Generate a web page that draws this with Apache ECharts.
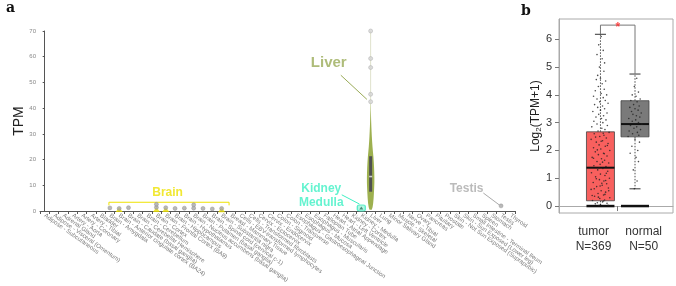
<!DOCTYPE html>
<html>
<head>
<meta charset="utf-8">
<script src="https://cdn.jsdelivr.net/npm/echarts@6.0.0/dist/echarts.min.js"></script>
<style>
  html, body { margin: 0; padding: 0; background: #fff; }
  #chart { width: 676px; height: 286px; }
</style>
</head>
<body>
<div id="chart"></div>
<script>
// ---- panel a: GTEx tissues (TPM) ----
const tissues = [
  'Adipose - Subcutaneous', 'Adipose - Visceral (Omentum)', 'Adrenal Gland', 'Artery - Aorta',
  'Artery - Coronary', 'Artery - Tibial', 'Bladder', 'Brain - Amygdala',
  'Brain - Anterior cingulate cortex (BA24)', 'Brain - Caudate (basal ganglia)',
  'Brain - Cerebellar Hemisphere', 'Brain - Cerebellum', 'Brain - Cortex',
  'Brain - Frontal Cortex (BA9)', 'Brain - Hippocampus', 'Brain - Hypothalamus',
  'Brain - Nucleus accumbens (basal ganglia)', 'Brain - Putamen (basal ganglia)',
  'Brain - Spinal cord (cervical c-1)', 'Brain - Substantia nigra', 'Breast - Mammary Tissue',
  'Cells - EBV-transformed lymphocytes', 'Cells - Transformed fibroblasts', 'Cervix - Ectocervix',
  'Cervix - Endocervix', 'Colon - Sigmoid', 'Colon - Transverse',
  'Esophagus - Gastroesophageal Junction', 'Esophagus - Mucosa', 'Esophagus - Muscularis',
  'Fallopian Tube', 'Heart - Atrial Appendage', 'Heart - Left Ventricle', 'Kidney - Cortex',
  'Kidney - Medulla', 'Liver', 'Lung', 'Minor Salivary Gland', 'Muscle - Skeletal',
  'Nerve - Tibial', 'Ovary', 'Pancreas', 'Pituitary', 'Prostate',
  'Skin - Not Sun Exposed (Suprapubic)', 'Skin - Sun Exposed (Lower leg)',
  'Small Intestine - Terminal Ileum', 'Spleen', 'Stomach', 'Testis', 'Thyroid'
];
const tpmMax = 70;

// liver violin: [TPM, relative density]
const liverDensity = [
  [0.5, 0.3], [1.5, 0.52], [3, 0.68], [5, 0.8], [7, 0.88], [9, 0.95], [11, 1], [13, 1],
  [15, 0.97], [17, 0.92], [19, 0.85], [21, 0.75], [23, 0.62], [25, 0.5], [27, 0.4],
  [29, 0.32], [31, 0.25], [33, 0.19], [35, 0.14], [37, 0.1], [39, 0.07], [41, 0.05], [43, 0.03]
];
const liverBox = [7.5, 13.4, 21.3];   // q1, median, q3
const liverTop = 70;
const liverOutliers = [70, 59.3, 55.8, 45.4, 42.5];

// small marks near 0 TPM: [tissue index, TPM]
const greyDots = [
  [7, 1.2], [8, 1.0], [9, 1.3], [12, 1.4], [12, 2.6], [13, 1.3], [14, 1.0], [15, 1.1],
  [16, 1.1], [16, 2.4], [17, 1.0], [18, 0.8], [19, 1.0], [49, 2.0]
];
const yellowMarks = [[8, 0.6], [12, 0.6], [13, 0.6], [19, 0.5]];
const tealMarks = [[34, 1.2]];

// ---- panel b: boxplot log2(TPM+1) ----
const groups = ['tumor', 'normal'];
const groupN = [369, 50];
const groupPos = [1.2, 2.2];
const tumorStats = [0, 0.19, 1.38, 2.67, 6.18];   // min, q1, median, q3, max
const normalStats = [0.62, 2.49, 2.95, 3.79, 4.75];
const tumorPoints = [
  [0.02, 6.1], [-0.05, 5.8], [0.08, 5.6], [-0.1, 5.45], [0.05, 5.3], [0.12, 5.15], [-0.03, 5.0],
  [0.1, 4.85], [-0.08, 4.7], [0.0, 4.6], [0.15, 4.5], [-0.12, 4.55], [0.05, 4.4], [-0.06, 4.3],
  [0.11, 4.2], [-0.15, 4.15], [0.02, 4.05], [0.18, 4.0], [-0.2, 3.95], [0.08, 3.9], [-0.1, 3.85],
  [0.14, 3.8], [-0.02, 3.75], [0.22, 3.7], [-0.17, 3.65], [0.06, 3.6], [-0.08, 3.55], [0.12, 3.5],
  [0.0, 3.45], [-0.22, 3.4], [0.19, 3.35], [-0.05, 3.3], [0.09, 3.25], [-0.13, 3.2], [0.03, 3.15],
  [0.16, 3.1], [-0.19, 3.05], [0.07, 3.0], [-0.1, 2.95], [0.2, 2.9], [-0.25, 2.85], [0.04, 2.8],
  [0.13, 2.75], [-0.07, 2.7], [0.25, 2.65], [-0.18, 2.6], [0.1, 2.55], [-0.02, 2.5], [0.17, 2.45],
  [-0.27, 2.4], [0.06, 2.35], [-0.12, 2.3], [0.22, 2.25], [-0.04, 2.2], [0.14, 2.15], [-0.2, 2.1],
  [0.01, 2.05], [0.27, 2.0], [-0.15, 1.95], [0.09, 1.9], [-0.06, 1.85], [0.19, 1.8], [-0.24, 1.75],
  [0.03, 1.7], [0.12, 1.65], [-0.1, 1.6], [0.24, 1.55], [-0.01, 1.5], [-0.19, 1.45], [0.16, 1.42],
  [0.07, 1.35], [-0.08, 1.3], [0.21, 1.25], [-0.26, 1.2], [0.0, 1.15], [0.13, 1.1], [-0.14, 1.05],
  [0.26, 1.0], [-0.03, 0.95], [0.1, 0.9], [-0.21, 0.85], [0.18, 0.8], [0.05, 0.75], [-0.11, 0.7],
  [0.23, 0.65], [-0.27, 0.6], [0.02, 0.55], [0.15, 0.5], [-0.07, 0.45], [0.09, 0.4], [-0.17, 0.35],
  [0.27, 0.3], [-0.02, 0.27], [0.12, 0.22], [-0.23, 0.2], [0.06, 0.15], [-0.09, 0.12], [0.19, 0.1],
  [-0.15, 0.08], [0.0, 0.05], [0.22, 0.03], [-0.05, 0.02], [0.08, 2.62], [-0.14, 2.48], [0.02, 2.33],
  [0.2, 2.18], [-0.09, 2.02], [0.11, 1.88], [-0.2, 1.72], [0.06, 1.58], [-0.04, 1.38], [0.17, 1.18],
  [-0.12, 0.98], [0.04, 0.82], [-0.18, 0.62], [0.13, 0.42], [-0.06, 0.32], [0.09, 0.18], [-0.24, 0.38],
  [0.24, 0.55], [-0.01, 0.72], [0.15, 0.92]
];
const normalPoints = [
  [0.05, 4.6], [-0.02, 4.3], [0.1, 4.1], [-0.08, 4.0], [0.03, 3.95], [0.15, 3.85], [-0.12, 3.8],
  [0.06, 3.75], [-0.04, 3.65], [0.12, 3.6], [-0.15, 3.55], [0.0, 3.5], [0.09, 3.45], [-0.1, 3.4],
  [0.18, 3.35], [-0.06, 3.3], [0.04, 3.25], [0.14, 3.2], [-0.18, 3.15], [0.02, 3.1], [-0.08, 3.05],
  [0.1, 3.0], [0.2, 2.95], [-0.13, 2.9], [0.05, 2.85], [-0.03, 2.8], [0.16, 2.75], [-0.17, 2.7],
  [0.07, 2.65], [-0.07, 2.6], [0.11, 2.55], [-0.2, 2.5], [0.0, 2.4], [0.13, 2.3], [-0.09, 2.15],
  [0.08, 2.0], [-0.14, 1.9], [0.03, 1.75], [0.1, 1.6], [-0.05, 1.3], [0.06, 0.9], [-0.02, 0.62]
];
const sigBracket = [6.18, 6.51, 4.75];

// annotation text and leader lines (panel a, in tissue-index / TPM units)
const notes = [
  { text: 'Liver', color: '#9aab58', size: 15, at: [30.5, 57.5], line: [31.8, 52.8, 34.6, 43.4] },
  { text: 'Kidney\nMedulla', color: '#3ff0c4', size: 12, at: [29.7, 5.9], line: [31.9, 6.3, 33.8, 2.7] },
  { text: 'Testis', color: '#aaaaaa', size: 12, at: [45.3, 8.6], line: [47.1, 7.0, 48.8, 2.4] },
  { text: 'Brain', color: '#eee200', size: 12, at: [13.2, 7.2], line: null }
];
const brainSpan = [6.9, 19.8, 3.4, 2.2];

const chart = echarts.init(document.getElementById('chart'), null, { renderer: 'canvas' });

const violinSeries = {
  type: 'custom',
  xAxisIndex: 1, yAxisIndex: 0,
  clip: false,
  z: 3,
  data: [[tissues.indexOf('Liver'), 0]],
  renderItem: (params, api) => {
    const idx = api.value(0);
    const halfMax = api.size([1, 0])[0] * 0.4;
    const left = [];
    const right = [];
    liverDensity.forEach(([v, d]) => {
      const p = api.coord([idx, v]);
      left.push([p[0] - d * halfMax, p[1]]);
      right.unshift([p[0] + d * halfMax, p[1]]);
    });
    const t0 = api.coord([idx, liverDensity[liverDensity.length - 1][0]]);
    const t1 = api.coord([idx, liverTop]);
    const q1 = api.coord([idx, liverBox[0]]);
    const med = api.coord([idx, liverBox[1]]);
    const q3 = api.coord([idx, liverBox[2]]);
    return {
      type: 'group',
      children: [
        { type: 'line', shape: { x1: t0[0], y1: t0[1], x2: t1[0], y2: t1[1] }, style: { stroke: '#dfe2cc', lineWidth: 1 } },
        { type: 'polygon', shape: { points: left.concat(right) }, style: { fill: '#9db04f' } },
        { type: 'rect', shape: { x: q1[0] - 1.5, y: q3[1], width: 3, height: q1[1] - q3[1] }, style: { fill: '#505050' } },
        { type: 'rect', shape: { x: med[0] - 1.5, y: med[1] - 0.8, width: 3, height: 1.6 }, style: { fill: '#cfcfcf' } }
      ]
    };
  }
};

const noteLines = {
  type: 'custom',
  xAxisIndex: 1, yAxisIndex: 0,
  clip: false,
  z: 4,
  data: notes.filter(n => n.line).map(n => n.line),
  renderItem: (params, api) => {
    const a = api.coord([api.value(0), api.value(1)]);
    const b = api.coord([api.value(2), api.value(3)]);
    const n = notes.filter(n => n.line)[params.dataIndex];
    return { type: 'line', shape: { x1: a[0], y1: a[1], x2: b[0], y2: b[1] }, style: { stroke: n.color, lineWidth: 1 } };
  }
};

const brainBracket = {
  type: 'line',
  xAxisIndex: 1, yAxisIndex: 0,
  symbol: 'none',
  silent: true,
  lineStyle: { color: '#eee200', width: 1 },
  data: [[brainSpan[0], brainSpan[3]], [brainSpan[0], brainSpan[2]], [brainSpan[1], brainSpan[2]], [brainSpan[1], brainSpan[3]]]
};

const noteText = {
  type: 'scatter',
  xAxisIndex: 1, yAxisIndex: 0,
  symbolSize: 0,
  z: 5,
  data: notes.map(n => ({
    value: n.at,
    label: {
      show: true, position: 'inside', formatter: n.text, color: n.color,
      fontSize: n.size, fontWeight: 'bold', lineHeight: n.size + 2,
      fontFamily: 'Liberation Sans, Arial, sans-serif'
    }
  }))
};

const boxSeries = {
  type: 'custom',
  xAxisIndex: 2, yAxisIndex: 1,
  clip: false,
  z: 2,
  data: [[groupPos[0]].concat(tumorStats), [groupPos[1]].concat(normalStats)],
  renderItem: (params, api) => {
    const x = api.value(0);
    const halfBox = api.size([0.81, 0])[0] / 2;
    const halfCap = api.size([0.32, 0])[0] / 2;
    const pMin = api.coord([x, api.value(1)]);
    const pQ1 = api.coord([x, api.value(2)]);
    const pMed = api.coord([x, api.value(3)]);
    const pQ3 = api.coord([x, api.value(4)]);
    const pMax = api.coord([x, api.value(5)]);
    const p0 = api.coord([x, 0]);
    const fill = params.dataIndex === 0 ? '#f8605e' : '#7a7a7a';
    const dash = { stroke: '#222', lineWidth: 0.8, lineDash: [1.5, 1.5] };
    return {
      type: 'group',
      children: [
        { type: 'line', shape: { x1: pQ3[0], y1: pQ3[1], x2: pMax[0], y2: pMax[1] }, style: dash },
        { type: 'line', shape: { x1: pQ1[0], y1: pQ1[1], x2: pMin[0], y2: pMin[1] }, style: dash },
        { type: 'line', shape: { x1: pMax[0] - halfCap, y1: pMax[1], x2: pMax[0] + halfCap, y2: pMax[1] }, style: { stroke: '#333', lineWidth: 1 } },
        { type: 'line', shape: { x1: pMin[0] - halfCap, y1: pMin[1], x2: pMin[0] + halfCap, y2: pMin[1] }, style: { stroke: '#333', lineWidth: 1 } },
        { type: 'rect', shape: { x: pQ3[0] - halfBox, y: pQ3[1], width: halfBox * 2, height: pQ1[1] - pQ3[1] }, style: { fill: fill, stroke: '#444', lineWidth: 0.8 } },
        { type: 'line', shape: { x1: pMed[0] - halfBox, y1: pMed[1], x2: pMed[0] + halfBox, y2: pMed[1] }, style: { stroke: '#111', lineWidth: 2 } },
        { type: 'line', shape: { x1: p0[0] - halfBox, y1: p0[1], x2: p0[0] + halfBox, y2: p0[1] }, style: { stroke: '#111', lineWidth: 2.5 } }
      ]
    };
  }
};

const jitter = {
  type: 'scatter',
  xAxisIndex: 2, yAxisIndex: 1,
  symbolSize: 1.6,
  z: 4,
  itemStyle: { color: '#222' },
  data: tumorPoints.map(([dx, v]) => [groupPos[0] + dx, v])
    .concat(normalPoints.map(([dx, v]) => [groupPos[1] + dx, v]))
};

const bracket = {
  type: 'line',
  xAxisIndex: 2, yAxisIndex: 1,
  symbol: 'none',
  z: 3,
  lineStyle: { color: '#777', width: 1 },
  data: [[groupPos[0], sigBracket[0]], [groupPos[0], sigBracket[1]], [groupPos[1], sigBracket[1]], [groupPos[1], sigBracket[2]]]
};

const star = {
  type: 'scatter',
  xAxisIndex: 2, yAxisIndex: 1,
  symbolSize: 0,
  z: 5,
  data: [[(groupPos[0] + groupPos[1]) / 2, sigBracket[1]]],
  label: { show: true, position: 'inside', formatter: '*', color: '#ff2020', fontSize: 12, fontWeight: 'bold', offset: [0, 3] }
};

const option = {
  animation: false,
  backgroundColor: '#fff',
  textStyle: { fontFamily: 'Liberation Sans, Arial, sans-serif' },
  graphic: [
    { type: 'text', left: 6, top: 1, style: { text: 'a', font: 'bold 14px "DejaVu Serif", serif', fill: '#111' } },
    { type: 'text', left: 521, top: 4, style: { text: 'b', font: 'bold 14px "DejaVu Serif", serif', fill: '#111' } }
  ],
  grid: [
    { left: 40, top: 31, width: 475, height: 180, outerBoundsMode: 'none' },
    { left: 559, top: 19, width: 114, height: 194, outerBoundsMode: 'none', show: true, borderColor: '#aaa', borderWidth: 1, backgroundColor: 'transparent' }
  ],
  xAxis: [
    {
      type: 'category', gridIndex: 0, data: tissues, boundaryGap: true,
      axisLine: { lineStyle: { color: '#555', width: 1 } },
      axisTick: { show: true, interval: 0, length: 3, lineStyle: { color: '#555' } },
      axisLabel: { interval: 0, rotate: -35, fontSize: 6, color: '#7a7a7a', margin: 4 },
      splitLine: { show: false }
    },
    { type: 'value', gridIndex: 0, min: -0.5, max: tissues.length - 0.5, show: false },
    {
      type: 'value', gridIndex: 1, min: 0, max: 3.3,
      axisLine: { show: true, lineStyle: { color: '#aaa' } },
      axisTick: { show: true, customValues: [(groupPos[0] + groupPos[1]) / 2], length: 5, lineStyle: { color: '#777' } },
      axisLabel: {
        customValues: [1.0, 2.45], fontSize: 12, color: '#333', margin: 11, lineHeight: 15,
        formatter: v => (v < 1.7 ? groups[0] + '\nN=' + groupN[0] : groups[1] + '\nN=' + groupN[1])
      },
      splitLine: { show: false }
    }
  ],
  yAxis: [
    {
      type: 'value', gridIndex: 0, min: 0, max: tpmMax, interval: 10,
      name: 'TPM', nameLocation: 'middle', nameRotate: 90, nameGap: 14, nameMoveOverlap: false,
      nameTextStyle: { fontSize: 14, color: '#222' },
      axisLine: { show: true, lineStyle: { color: '#555' } },
      axisTick: { show: true, length: 2, lineStyle: { color: '#555' } },
      axisLabel: { fontSize: 6, color: '#888', margin: 4 },
      splitLine: { show: false }
    },
    {
      type: 'value', gridIndex: 1, min: -0.25, max: 6.73,
      name: '{n|Log}{s|2}{n|(TPM+1)}', nameLocation: 'middle', nameRotate: 90, nameGap: 16, nameMoveOverlap: false,
      nameTextStyle: {
        rich: {
          n: { fontSize: 12, color: '#222' },
          s: { fontSize: 8, color: '#222', verticalAlign: 'bottom', padding: [6, 0, 0, 0] }
        }
      },
      axisLine: { show: true, lineStyle: { color: '#aaa' } },
      axisTick: { show: true, customValues: [0, 1, 2, 3, 4, 5, 6], length: 4, lineStyle: { color: '#777' } },
      axisLabel: { customValues: [0, 1, 2, 3, 4, 5, 6], fontSize: 11, color: '#333', margin: 7 },
      splitLine: { show: false }
    }
  ],
  series: [
    violinSeries,
    {
      type: 'scatter', xAxisIndex: 1, yAxisIndex: 0, symbolSize: 4, z: 4,
      itemStyle: { color: '#d4d4d4', borderColor: '#aaa', borderWidth: 0.6 },
      data: liverOutliers.map(v => [tissues.indexOf('Liver'), v])
    },
    {
      type: 'scatter', xAxisIndex: 1, yAxisIndex: 0, symbol: 'triangle', symbolSize: [7, 5], z: 2,
      itemStyle: { color: '#eee200' },
      data: yellowMarks
    },
    {
      type: 'scatter', xAxisIndex: 1, yAxisIndex: 0, symbolSize: 4, z: 3,
      itemStyle: { color: '#a8a8a8', borderColor: '#888', borderWidth: 0.5 },
      data: greyDots
    },
    {
      type: 'scatter', xAxisIndex: 1, yAxisIndex: 0, symbol: 'roundRect', symbolSize: [8, 6], z: 3,
      itemStyle: { color: '#9ff5dc', borderColor: '#3ee8c0', borderWidth: 1.2 },
      data: tealMarks
    },
    {
      type: 'scatter', xAxisIndex: 1, yAxisIndex: 0, symbol: 'triangle', symbolSize: [4, 3], z: 4,
      itemStyle: { color: '#2d6d5e' },
      data: tealMarks
    },
    brainBracket,
    noteLines,
    noteText,
    boxSeries,
    jitter,
    bracket,
    star
  ]
};

chart.setOption(option);
</script>
</body>
</html>
